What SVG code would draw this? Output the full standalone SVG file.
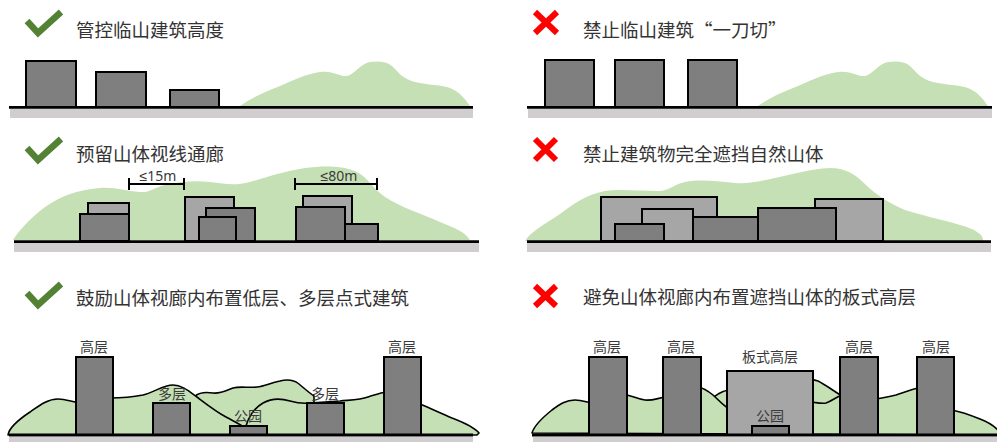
<svg xmlns="http://www.w3.org/2000/svg" width="997" height="442" viewBox="0 0 997 442">
  <style>
    .dk { fill: #7f7f7f; stroke: #000; stroke-width: 2; }
    .lt { fill: #a6a6a6; stroke: #000; stroke-width: 2; }
    .hill { fill: #c5e0b4; }
    .hill-o { fill: #c5e0b4; stroke: #000; stroke-width: 1.6; stroke-linejoin: round; }
    .ground { stroke: #000; stroke-width: 2.8; }
    .base { fill: #d0cecf; }
    .ok { fill: none; stroke: #548235; stroke-width: 6.5; stroke-linejoin: miter; }
    .no { stroke: #ff0000; stroke-width: 6; }
    .dim { stroke: #000; stroke-width: 2; fill: none; }
    text { font-family: "Noto Sans CJK SC", "Noto Sans", sans-serif; fill: #333; }
    .title { font-size: 18.5px; }
    .lbl { font-size: 14px; text-anchor: middle; fill: #3a3a3a; }
    .dimtxt { font-family: "Noto Sans", "Liberation Sans", sans-serif; font-size: 14px; text-anchor: middle; fill: #3a3a3a; }
  </style>

  <!-- Panel 1: controlled building height at the foot of the hill -->
  <g id="panel-height-ok">
    <polyline class="ok" points="27,21 38,33 61,12"/>
    <text class="title" x="76" y="37">管控临山建筑高度</text>
    <path class="hill" d="M240,106 C250,99 262,93 275,88 C290,82 305,74 320,72 C333,70 340,77 347,76 C355,74 360,64 370,62 C378,61 386,61 392,66 C398,72 403,79 415,82 C428,85 442,85 450,88 C460,92 465,99 470,106 Z"/>
    <rect class="dk" x="26" y="61" width="50" height="46"/>
    <rect class="dk" x="96" y="72" width="50" height="35"/>
    <rect class="dk" x="170" y="90" width="49" height="17"/>
    <rect class="base" x="10" y="108.5" width="463" height="9.5"/>
    <line class="ground" x1="9" y1="107.3" x2="473" y2="107.3"/>
  </g>

  <!-- Panel 2: uniform height wall along the hill -->
  <g id="panel-height-no">
    <line class="no" x1="535" y1="12" x2="557" y2="33"/>
    <line class="no" x1="557" y1="12" x2="535" y2="33"/>
    <text class="title" x="583" y="37">禁止临山建筑“一刀切”</text>
    <path class="hill" transform="translate(518,0)" d="M240,106 C250,99 262,93 275,88 C290,82 305,74 320,72 C333,70 340,77 347,76 C355,74 360,64 370,62 C378,61 386,61 392,66 C398,72 403,79 415,82 C428,85 442,85 450,88 C460,92 465,99 470,106 Z"/>
    <rect class="dk" x="545" y="60" width="49" height="47"/>
    <rect class="dk" x="615" y="60" width="49" height="47"/>
    <rect class="dk" x="688" y="60" width="49" height="47"/>
    <rect class="base" x="528" y="108.5" width="464" height="9.5"/>
    <line class="ground" x1="527" y1="107.3" x2="992" y2="107.3"/>
  </g>

  <!-- Panel 3: keep view corridors between building clusters -->
  <g id="panel-corridor-ok">
    <polyline class="ok" points="27,148 38,160 61,139"/>
    <text class="title" x="76" y="161">预留山体视线通廊</text>
    <path class="hill" d="M13,240 C18,232 28,220 45,207 C60,197 75,190 100,188 C115,187 125,191 140,192 C150,193 155,187 165,185 C178,182 195,180 210,182 C225,184 235,186 250,182 C265,178 280,172 305,168 C320,166 340,165 355,171 C368,177 372,188 385,197 C400,207 420,213 440,222 C455,228 465,232 470,240 Z"/>
    <g id="cluster-1">
      <rect class="lt" x="88" y="203" width="41" height="38"/>
      <rect class="dk" x="80" y="214" width="49" height="27"/>
    </g>
    <g id="cluster-2">
      <rect class="lt" x="185" y="197" width="49" height="44"/>
      <rect class="dk" x="206" y="208" width="49" height="33"/>
      <rect class="dk" x="199" y="217" width="37" height="24"/>
    </g>
    <g id="cluster-3">
      <rect class="lt" x="303" y="196" width="49" height="45"/>
      <rect class="dk" x="296" y="207" width="49" height="34"/>
      <rect class="dk" x="345" y="224" width="33" height="17"/>
    </g>
    <rect class="base" x="14" y="243" width="465" height="9"/>
    <line class="ground" x1="14" y1="241.7" x2="479" y2="241.7"/>
  </g>

  <!-- Panel 4: continuous block hiding the hill -->
  <g id="panel-corridor-no">
    <line class="no" x1="535" y1="139" x2="556" y2="160"/>
    <line class="no" x1="556" y1="139" x2="535" y2="160"/>
    <text class="title" x="583" y="161">禁止建筑物完全遮挡自然山体</text>
    <path class="hill" d="M525,241 C530,232 545,224 560,214 C575,203 585,195 605,191 C620,189 640,191 660,191 C670,190 675,184 685,182 C700,179 715,181 735,183 C750,184 760,181 775,178 C790,175 810,169 830,168 C845,168 855,174 865,184 C875,194 890,204 905,210 C920,215 940,219 960,225 C975,229 982,234 983,239 L983,241 Z"/>
    <g id="block">
      <rect class="lt" x="601" y="197" width="116" height="44"/>
      <rect class="lt" x="642" y="209" width="51" height="32"/>
      <rect class="dk" x="615" y="224" width="49" height="17"/>
      <rect class="dk" x="693" y="217" width="71" height="24"/>
      <rect class="lt" x="815" y="199" width="68" height="42"/>
      <rect class="dk" x="758" y="208" width="78" height="33"/>
    </g>
    <rect class="base" x="527" y="243" width="464" height="9"/>
    <line class="ground" x1="527" y1="241.7" x2="991" y2="241.7"/>
  </g>

  <!-- Panel 5: low-rise and point towers inside the corridor -->
  <g id="panel-towers-ok">
    <polyline class="ok" points="27,293 38,305 61,284"/>
    <text class="title" x="76" y="305">鼓励山体视廊内布置低层、多层点式建筑</text>
    <path class="hill-o" d="M195,435 L195,396 C200,392 207,392 213,393 C220,394 225,391 233,388 C240,386 248,388 257,387 C265,386 270,383 280,381 C288,379 294,380 299,384 C304,388 308,392 314,396 L314,435 Z"/>
    <path class="hill-o" d="M8,435 C9,428 18,420 30,412 C40,405 48,399 58,399 C66,399 72,402 80,403 L110,398 C122,398 133,397 143,395 C155,392 163,385 173,385 C182,385 190,392 197,397 C205,403 215,411 226,417 C235,422 242,425 248,430 L248,435 Z"/>
    <path class="hill-o" d="M246,435 L246,426 C248,418 254,408 263,403 C270,399 280,398 290,401 C297,403 302,404 310,403 L340,401 C350,400 360,400 368,397 C375,395 380,393 386,392 L420,404 C430,408 440,413 452,418 C465,423 475,428 479,433 L477,435 Z"/>
    <rect class="dk" x="76" y="357" width="37" height="78"/>
    <rect class="dk" x="153" y="403" width="37" height="32"/>
    <rect class="dk" x="230" y="426" width="37" height="9"/>
    <rect class="dk" x="307" y="403" width="37" height="32"/>
    <rect class="dk" x="384" y="357" width="37" height="78"/>
    <text class="lbl" x="94" y="352">高层</text>
    <text class="lbl" x="172" y="399">多层</text>
    <text class="lbl" x="248" y="421">公园</text>
    <text class="lbl" x="325" y="399">多层</text>
    <text class="lbl" x="402" y="352">高层</text>
    <rect class="base" x="9" y="437" width="464" height="5"/>
    <line class="ground" x1="9" y1="435" x2="473" y2="435"/>
  </g>

  <!-- Panel 6: slab tower blocking the hill -->
  <g id="panel-towers-no">
    <line class="no" x1="535" y1="286" x2="556" y2="306"/>
    <line class="no" x1="556" y1="286" x2="535" y2="306"/>
    <text class="title" x="583" y="304">避免山体视廊内布置遮挡山体的板式高层</text>
    <path class="hill-o" d="M708,435 L708,404 C712,398 717,394 722,392 C726,390 729,390 733,390 L800,382 C806,379 812,379 818,381 C826,385 832,390 842,396 L842,435 Z"/>
    <path class="hill-o" d="M532,433 C534,426 542,418 552,410 C560,404 566,400 575,400 C582,400 586,402 592,403 L627,395 C632,396 637,399 645,400 C652,401 658,398 666,397 L698,387 C704,388 708,391 713,395 C718,400 722,404 730,410 L810,402 C815,402 820,404 826,403 C832,401 836,397 842,395 L876,399 C882,398 888,397 896,395 C905,392 912,389 919,388 L952,410 C962,412 970,415 980,419 C988,422 994,426 998,430 L998,435 Z"/>
    <rect class="dk" x="589" y="357" width="38" height="78"/>
    <rect class="dk" x="663" y="357" width="38" height="78"/>
    <rect class="lt" x="727" y="371" width="86" height="64"/>
    <rect class="dk" x="752" y="426" width="37" height="9"/>
    <rect class="dk" x="840" y="357" width="38" height="78"/>
    <rect class="dk" x="917" y="357" width="37" height="78"/>
    <text class="lbl" x="607" y="352">高层</text>
    <text class="lbl" x="681" y="352">高层</text>
    <text class="lbl" x="770" y="362">板式高层</text>
    <text class="lbl" x="770" y="421">公园</text>
    <text class="lbl" x="859" y="352">高层</text>
    <text class="lbl" x="936" y="352">高层</text>
    <rect class="base" x="533" y="437" width="464" height="5"/>
    <line class="ground" x1="532" y1="435" x2="997" y2="435"/>
  </g>

  <!-- Spacing dimensions between clusters -->
  <g id="dimensions">
    <path class="dim" d="M129,184 H184 M129,178 V190 M184,178 V190"/>
    <text class="dimtxt" x="158" y="181">≤15m</text>
    <path class="dim" d="M295,184 H377 M295,178 V190 M377,178 V190"/>
    <text class="dimtxt" x="339" y="181">≤80m</text>
  </g>
</svg>
